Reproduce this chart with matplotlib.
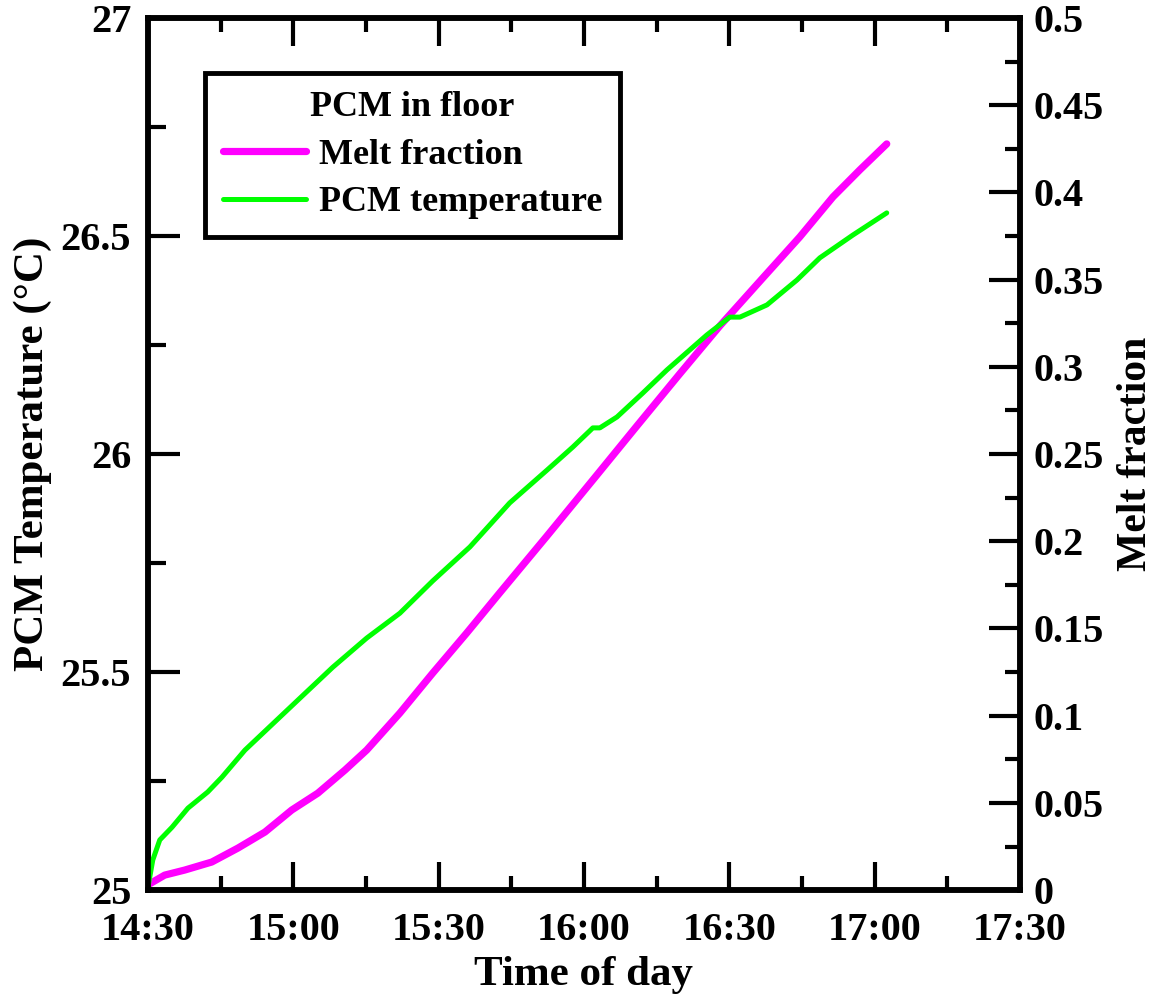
import matplotlib
matplotlib.use("Agg")
import matplotlib.pyplot as plt
import numpy as np

# ---------------- data ----------------
# time of day in decimal hours
temp_time = [14.500, 14.517, 14.541, 14.583, 14.638, 14.706, 14.755, 14.834, 15.023,
             15.136, 15.253, 15.367, 15.480, 15.608, 15.745, 15.873, 15.962, 16.031,
             16.055, 16.114, 16.203, 16.286, 16.423, 16.502, 16.537, 16.630, 16.733,
             16.812, 16.925, 17.042]
pcm_temperature = [25.005, 25.069, 25.115, 25.144, 25.188, 25.225, 25.259, 25.321, 25.440,
                   25.511, 25.578, 25.635, 25.709, 25.787, 25.888, 25.963, 26.016, 26.060,
                   26.060, 26.085, 26.140, 26.193, 26.273, 26.314, 26.314, 26.342, 26.399,
                   26.450, 26.502, 26.553]

melt_time = [14.500, 14.558, 14.627, 14.720, 14.810, 14.903, 14.995, 15.085, 15.178,
             15.253, 15.367, 15.480, 15.597, 15.710, 15.873, 16.045, 16.182, 16.330,
             16.468, 16.616, 16.743, 16.857, 16.950, 17.042]
melt_fraction = [0.003, 0.0086, 0.0115, 0.0161, 0.0241, 0.0333, 0.0459, 0.0556, 0.0688,
                 0.0803, 0.1015, 0.1244, 0.1474, 0.1703, 0.2030, 0.2380, 0.2660, 0.2960,
                 0.3235, 0.3510, 0.3745, 0.3974, 0.4130, 0.4278]

x_ticks = [14.5, 15.0, 15.5, 16.0, 16.5, 17.0, 17.5]
x_tick_labels = ["14:30", "15:00", "15:30", "16:00", "16:30", "17:00", "17:30"]
left_ticks = [25, 25.5, 26, 26.5, 27]
left_tick_labels = ["25", "25.5", "26", "26.5", "27"]
right_ticks = [0, 0.05, 0.1, 0.15, 0.2, 0.25, 0.3, 0.35, 0.4, 0.45, 0.5]
right_tick_labels = ["0", "0.05", "0.1", "0.15", "0.2", "0.25", "0.3", "0.35", "0.4", "0.45", "0.5"]

# ---------------- style ----------------
plt.rcParams['font.family'] = ['Liberation Serif', 'DejaVu Serif']
plt.rcParams['font.weight'] = 'bold'
plt.rcParams['axes.labelweight'] = 'bold'

fig = plt.figure(figsize=(11.55, 9.99), dpi=100)
ax = fig.add_axes([0.128, 0.109, 0.755, 0.873])
ax2 = ax.twinx()

ax.set_zorder(ax2.get_zorder() + 1)
ax.patch.set_visible(False)

l_melt, = ax2.plot(melt_time, melt_fraction, color='#ff00ff', lw=5.2,
                   solid_capstyle='round', solid_joinstyle='round', label='Melt fraction')
l_temp, = ax.plot(temp_time, pcm_temperature, color='#00ff00', lw=3.6,
                  solid_capstyle='round', solid_joinstyle='round', label='PCM temperature')

ax.set_xlim(14.5, 17.5)
ax.set_ylim(25, 27)
ax2.set_ylim(0, 0.5)

ax.set_xticks(x_ticks)
ax.set_xticklabels(x_tick_labels)
ax.set_xticks([14.75, 15.25, 15.75, 16.25, 16.75, 17.25], minor=True)
ax.set_yticks(left_ticks)
ax.set_yticklabels(left_tick_labels)
ax.set_yticks([25.25, 25.75, 26.25, 26.75], minor=True)
ax2.set_yticks(right_ticks)
ax2.set_yticklabels(right_tick_labels)
ax2.set_yticks(np.arange(0.025, 0.5, 0.05), minor=True)

fs_tick = 29
ax.tick_params(axis='x', which='both', direction='in', top=True, bottom=True,
               width=3, labelsize=fs_tick, pad=16)
ax.tick_params(axis='x', which='major', length=20)
ax.tick_params(axis='x', which='minor', length=10)
ax.tick_params(axis='y', which='both', direction='in', left=True, right=False,
               width=3, labelsize=fs_tick, pad=12)
ax.tick_params(axis='y', which='major', length=23)
ax.tick_params(axis='y', which='minor', length=13)
ax2.tick_params(axis='y', which='both', direction='in', right=True, left=False,
                width=3, labelsize=fs_tick, pad=10)
ax2.tick_params(axis='y', which='major', length=22)
ax2.tick_params(axis='y', which='minor', length=11)

for a in (ax, ax2):
    for s in a.spines.values():
        s.set_linewidth(4)
    for lab in a.get_xticklabels() + a.get_yticklabels():
        lab.set_fontweight('bold')

ax.set_xlabel("Time of day", fontsize=31, fontweight='bold', labelpad=5)
ax.set_ylabel("PCM Temperature (°C)", fontsize=31, fontweight='bold', labelpad=6)
ax2.set_ylabel("Melt fraction", fontsize=30, fontweight='bold', labelpad=9)

leg = ax.legend([l_melt, l_temp], ['Melt fraction', 'PCM temperature'],
                title='PCM in floor', loc='upper left',
                bbox_to_anchor=(0.0654, 0.937), borderaxespad=0,
                prop={'size': 26, 'weight': 'bold'},
                title_fontproperties={'size': 26, 'weight': 'bold'},
                handlelength=2.3, handletextpad=0.35, labelspacing=0.4,
                borderpad=0.5, fancybox=False, framealpha=1,
                edgecolor='black')
leg.get_frame().set_linewidth(3.5)

fig.savefig("out.png", dpi=100)
